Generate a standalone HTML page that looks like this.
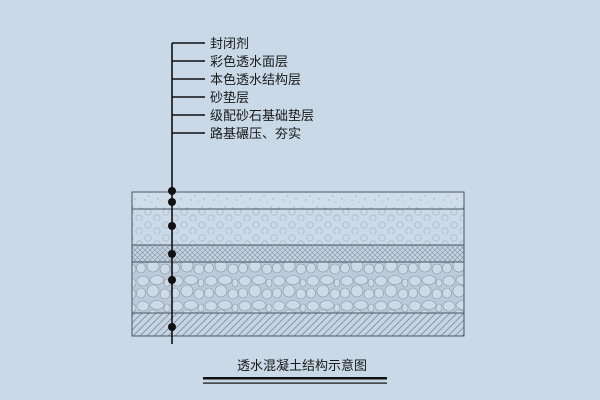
<!DOCTYPE html>
<html><head><meta charset="utf-8"><style>
html,body{margin:0;padding:0;background:#c9d9e8;}
svg{display:block;}
text{font-family:"Liberation Sans","Noto Sans CJK SC",sans-serif;fill:#1a1a1a;}
</style></head><body>
<svg width="600" height="400" viewBox="0 0 600 400" xmlns="http://www.w3.org/2000/svg">
<defs>
<pattern id="sand" width="23" height="17" patternUnits="userSpaceOnUse">
<rect width="23" height="17" fill="#d0deea"/>
<g fill="#8a97a6"><circle cx="3" cy="4" r="0.6"/><circle cx="11" cy="9" r="0.6"/><circle cx="18" cy="3" r="0.6"/><circle cx="7" cy="13" r="0.6"/><circle cx="20" cy="12" r="0.6"/><circle cx="14" cy="15" r="0.5"/></g>
</pattern>
<pattern id="circ" width="18" height="13" patternUnits="userSpaceOnUse">
<rect width="18" height="13" fill="#cbdae8"/>
<circle cx="4" cy="4" r="3.2" fill="none" stroke="#aab8c7" stroke-width="0.8"/>
<circle cx="13" cy="10" r="3.2" fill="none" stroke="#aab8c7" stroke-width="0.8"/>
</pattern>
<pattern id="cross" width="5" height="5" patternUnits="userSpaceOnUse">
<rect width="5" height="5" fill="#c5d4e3"/>
<path d="M0 5L5 0M0 0L5 5" stroke="#8290a0" stroke-width="0.6"/>
</pattern>
<pattern id="stone" width="34" height="25" patternUnits="userSpaceOnUse">
<rect width="34" height="25" fill="#bccbda"/>
<g fill="#cddbe9" stroke="#8694a4" stroke-width="0.6">
<ellipse cx="7" cy="6" rx="6" ry="5"/><ellipse cx="21" cy="5" rx="7" ry="4.5"/><ellipse cx="31" cy="8" rx="3" ry="4"/>
<ellipse cx="5" cy="18" rx="4.5" ry="5"/><ellipse cx="17" cy="16" rx="6" ry="6"/><ellipse cx="29" cy="19" rx="5" ry="5"/>
</g>
</pattern>
<pattern id="diag" width="7" height="7" patternUnits="userSpaceOnUse">
<rect width="7" height="7" fill="#c5d4e3"/>
<path d="M0 7L7 0M-1 1L1 -1M6 8L8 6" stroke="#6f7d8d" stroke-width="0.7"/>
</pattern>
</defs>
<g stroke="#4a5460" stroke-width="1">
<rect x="132" y="192" width="332" height="17" fill="url(#sand)"/>
<rect x="132" y="209" width="332" height="36" fill="url(#circ)"/>
<rect x="132" y="245" width="332" height="17" fill="url(#cross)"/>
<rect x="132" y="262" width="332" height="51" fill="url(#stone)"/>
<rect x="132" y="313" width="332" height="23" fill="url(#diag)"/>
</g>
<g stroke="#111" stroke-width="1.6">
<line x1="172" y1="43" x2="172" y2="344"/>
<line x1="172" y1="43" x2="205" y2="43"/>
<line x1="172" y1="61" x2="205" y2="61"/>
<line x1="172" y1="79" x2="205" y2="79"/>
<line x1="172" y1="97" x2="205" y2="97"/>
<line x1="172" y1="115" x2="205" y2="115"/>
<line x1="172" y1="133" x2="205" y2="133"/>
</g>
<g fill="#111">
<circle cx="172" cy="191" r="4"/><circle cx="172" cy="202" r="4"/><circle cx="172" cy="226" r="4"/>
<circle cx="172" cy="254" r="4"/><circle cx="172" cy="280" r="4"/><circle cx="172" cy="327" r="4"/>
</g>
<g font-size="13">
<text x="210" y="48">封闭剂</text>
<text x="210" y="66">彩色透水面层</text>
<text x="210" y="84">本色透水结构层</text>
<text x="210" y="102">砂垫层</text>
<text x="210" y="120">级配砂石基础垫层</text>
<text x="210" y="138">路基碾压、夯实</text>
</g>
<text x="237" y="370" font-size="13">透水混凝土结构示意图</text>
<rect x="203" y="377" width="184" height="2.5" fill="#111"/>
<rect x="203" y="382.5" width="184" height="1.2" fill="#111"/>
</svg>
</body></html>
